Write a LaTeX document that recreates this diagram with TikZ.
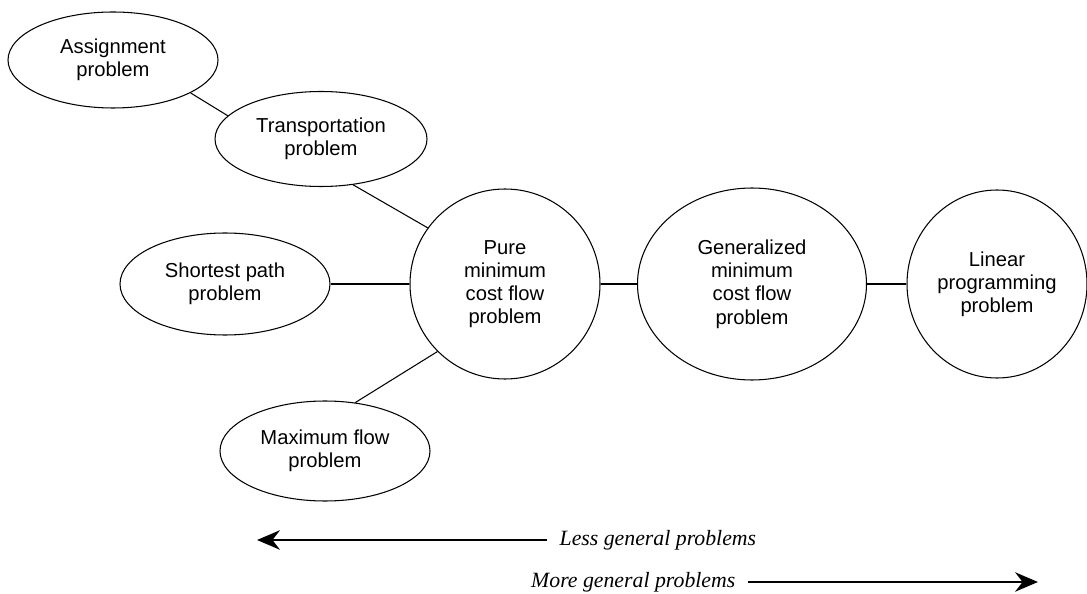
\documentclass[tikz,border=0pt]{standalone}
\usepackage{fontspec}
\setmainfont{Liberation Sans}
\newfontfamily\trendfont{Liberation Serif}
\usetikzlibrary{shapes.geometric,arrows.meta,positioning}
\tikzset{
    problem/.style={draw, ellipse, semithick, inner sep=0pt, align=center, font=\fontsize{11.5}{13.2}\selectfont},
    link/.style={semithick},
    trend/.style={line width=1.5pt, -{Stealth[length=13pt, width=11pt]}},
    trendtext/.style={font=\trendfont\itshape\fontsize{12.4}{14}\selectfont, inner ysep=0pt, inner xsep=7pt}
}

\begin{document}
\begin{tikzpicture}

\useasboundingbox (0,0) rectangle (21.74,11.86);

% Special cases
\node[problem, minimum width=4.2cm, minimum height=1.92cm] (assign) at (2.26,10.66) {Assignment\\problem};
\node[problem, minimum width=4.24cm, minimum height=1.9cm] (transp) at (6.42,9.08) {Transportation\\problem};
\node[problem, minimum width=4.2cm, minimum height=2.04cm] (shortest) at (4.5,6.18) {Shortest path\\problem};
\node[problem, minimum width=4.2cm, minimum height=2.0cm] (maxflow) at (6.5,2.84) {Maximum flow\\problem};

% Main chain
\node[problem, minimum width=3.8cm, minimum height=3.8cm] (pure) at (10.1,6.18) {Pure\\minimum\\cost flow\\problem};
\node[problem, minimum width=4.58cm, minimum height=3.84cm] (general) at (15.04,6.18) {Generalized\\minimum\\cost flow\\problem};
\node[problem, minimum width=3.6cm, minimum height=3.76cm] (linear) at (19.94,6.18) {Linear\\programming\\problem};

% Links
\draw[link] (assign.-23) -- (transp.166);
\draw[link] (transp.-55) -- (pure.144);
\draw[link] (shortest.east) -- (pure.west);
\draw[link] (maxflow.58) -- (pure.225);
\draw[link] (pure.east) -- (general.west);
\draw[link] (general.east) -- (linear.west);

% Direction of generality
\node[trendtext, anchor=west] (less) at (10.94,1.06) {Less general problems};
\coordinate (lessend) at (5.14,1.06);
\draw[trend] (less.west) -- (lessend);

\node[trendtext, anchor=east] (more) at (14.96,0.22) {More general problems};
\coordinate (moreend) at (20.76,0.22);
\draw[trend] (more.east) -- (moreend);

\end{tikzpicture}
\end{document}
